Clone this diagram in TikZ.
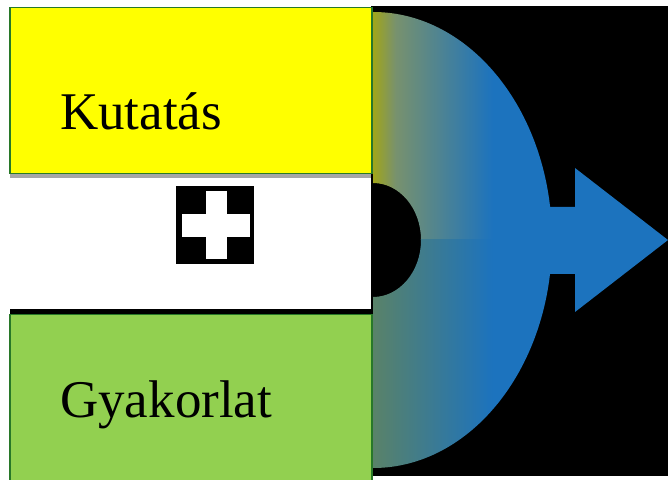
\documentclass[tikz,border=0pt]{standalone}
\usepackage{fontspec}
\setmainfont{Liberation Serif}
\usepackage{xcolor}
\usepackage{tikz}
\usetikzlibrary{positioning,calc}

\definecolor{kyellow}{RGB}{255,255,0}
\definecolor{kgreen}{RGB}{146,208,80}
\definecolor{kborder}{RGB}{40,120,40}
\definecolor{kshadow}{RGB}{166,166,166}
\definecolor{kblue}{RGB}{28,115,190}

\pgfdeclarehorizontalshading{topgrad}{100bp}{rgb(0bp)=(0.63,0.65,0.10); rgb(25bp)=(0.63,0.65,0.10); rgb(31bp)=(0.47,0.57,0.43); rgb(57bp)=(0.11,0.45,0.745); rgb(100bp)=(0.11,0.45,0.745)}
\pgfdeclarehorizontalshading{botgrad}{100bp}{rgb(0bp)=(0.35,0.51,0.41); rgb(25bp)=(0.35,0.51,0.41); rgb(57bp)=(0.11,0.45,0.745); rgb(100bp)=(0.11,0.45,0.745)}

\begin{document}
\begin{tikzpicture}[
        x=1pt, y=1pt,
        box/.style={rectangle, draw=kborder, line width=1.5pt, minimum width=362pt, anchor=north west, inner sep=0pt},
        lbl/.style={anchor=base west, inner sep=0pt, font=\fontsize{53pt}{60pt}\selectfont},
        bar/.style={fill=white, inner sep=0pt}
    ]
        \useasboundingbox (0,0) rectangle (668,479);

        \fill[black] (371,3) rectangle (668,473);
        \fill[kshadow] (10,301) rectangle (371,306);
        \fill[black] (10,165) rectangle (372,170);

        \node[box, fill=kyellow, minimum height=166pt] (kutatas) at (9,472) {};
        \node[box, fill=kgreen, minimum height=175pt] (gyakorlat) at (9,165) {};
        \node[lbl] (kutatastxt) at (60,349) {Kutatás};
        \node[lbl] (gyakorlattxt) at (60,62) {Gyakorlat};

        \node[fill=black, minimum size=78pt, inner sep=0pt] (plusbox) at (215,254) {};
        \node[bar, minimum width=68pt, minimum height=23pt] (plush) at (216,253.5) {};
        \node[bar, minimum width=21pt, minimum height=68pt] (plusv) at (216.5,254) {};

        \begin{scope}
            \clip (373,467) arc[start angle=90, end angle=-90, x radius=179, y radius=228]
                -- (373,182) arc[start angle=-90, end angle=90, x radius=48, y radius=57] -- cycle;
            \shade[shading=topgrad] (373,239) rectangle (560,470);
            \shade[shading=botgrad] (373,8) rectangle (560,239);
        \end{scope}
        \fill[kblue] (545,272) -- (575,272) -- (575,311) -- (668,239) -- (575,167) -- (575,205) -- (545,205) -- cycle;
    \end{tikzpicture}
\end{document}
